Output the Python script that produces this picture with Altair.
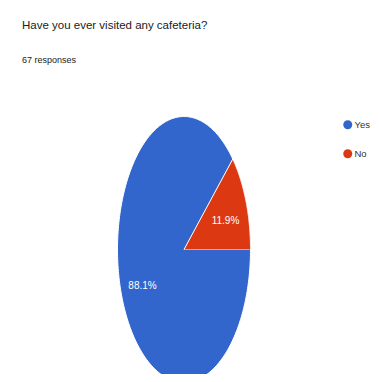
import altair as alt
import pandas as pd

title_text = "Have you ever visited any cafeteria?"
subtitle_text = "67 responses"
labels = ["Yes", "No"]
values = [88.1, 11.9]
colors = ["#3366cc", "#dc3912"]

FONT = "Liberation Sans, Arial, sans-serif"

slices = pd.DataFrame({"label": labels, "value": values,
                       "order": list(range(len(labels)))})

N = 240
base = (
    alt.Chart(slices)
    .transform_joinaggregate(total="sum(value)")
    .transform_window(cum="sum(value)", sort=[alt.SortField("order")], frame=[None, 0])
    .transform_calculate(
        a0="PI/2 + 2*PI*(datum.cum - datum.value)/datum.total",
        a1="PI/2 + 2*PI*datum.cum/datum.total",
    )
)

# pie center at page (184, 249.5), radii 66.5 x 133 (page offset 8px)
xs = alt.Scale(domain=[-1, 1], range=[109.5, 242.5])
ys = alt.Scale(domain=[-1, 1], range=[374.5, 108.5])

wedges = (
    base.transform_calculate(steps=f"sequence(-1, {N + 1})")
    .transform_flatten(["steps"], as_=["step"])
    .transform_calculate(
        ang=f"datum.a0 + (datum.a1 - datum.a0) * max(datum.step, 0) / {N}",
        r="datum.step < 0 ? 0 : 1",
    )
    .transform_calculate(px="datum.r * sin(datum.ang)", py="datum.r * cos(datum.ang)")
    .mark_line(stroke="white", strokeWidth=1, interpolate="linear")
    .encode(
        x=alt.X("px:Q", scale=xs, axis=None),
        y=alt.Y("py:Q", scale=ys, axis=None),
        order=alt.Order("step:Q"),
        detail="label:N",
        fill=alt.Fill(
            "label:N",
            scale=alt.Scale(domain=labels, range=colors),
            legend=alt.Legend(
                title=None, orient="none", legendX=335, legendY=112,
                symbolType="circle", symbolSize=81, symbolStrokeWidth=0,
                labelFont=FONT, labelFontSize=9.5, labelColor="#333333",
                labelOffset=2, rowPadding=18, padding=0,
            ),
        ),
    )
)

pct = (
    base.transform_calculate(
        mid="(datum.a0 + datum.a1) / 2",
        lx="0.67 * sin(datum.mid)",
        ly="0.67 * cos(datum.mid)",
        txt="format(datum.value, '.1f') + '%'",
    )
    .mark_text(color="white", fontSize=10, font=FONT, dy=4)
    .encode(
        x=alt.X("lx:Q", scale=xs, axis=None),
        y=alt.Y("ly:Q", scale=ys, axis=None),
        text="txt:N",
    )
)

title = (
    alt.Chart(pd.DataFrame({"t": [title_text]}))
    .mark_text(align="left", baseline="alphabetic", fontSize=11.5, font=FONT, color="#202124")
    .encode(text="t:N", x=alt.value(14), y=alt.value(21))
)
subtitle = (
    alt.Chart(pd.DataFrame({"t": [subtitle_text]}))
    .mark_text(align="left", baseline="alphabetic", fontSize=9, font=FONT, color="#202124")
    .encode(text="t:N", x=alt.value(14), y=alt.value(55))
)

chart = (
    alt.layer(wedges, pct, title, subtitle)
    .properties(width=363, height=366, autosize="none", padding=0, background="white")
    .configure_view(stroke=None)
)

chart.save("out.html", embed_options={"renderer": "svg", "actions": False})
